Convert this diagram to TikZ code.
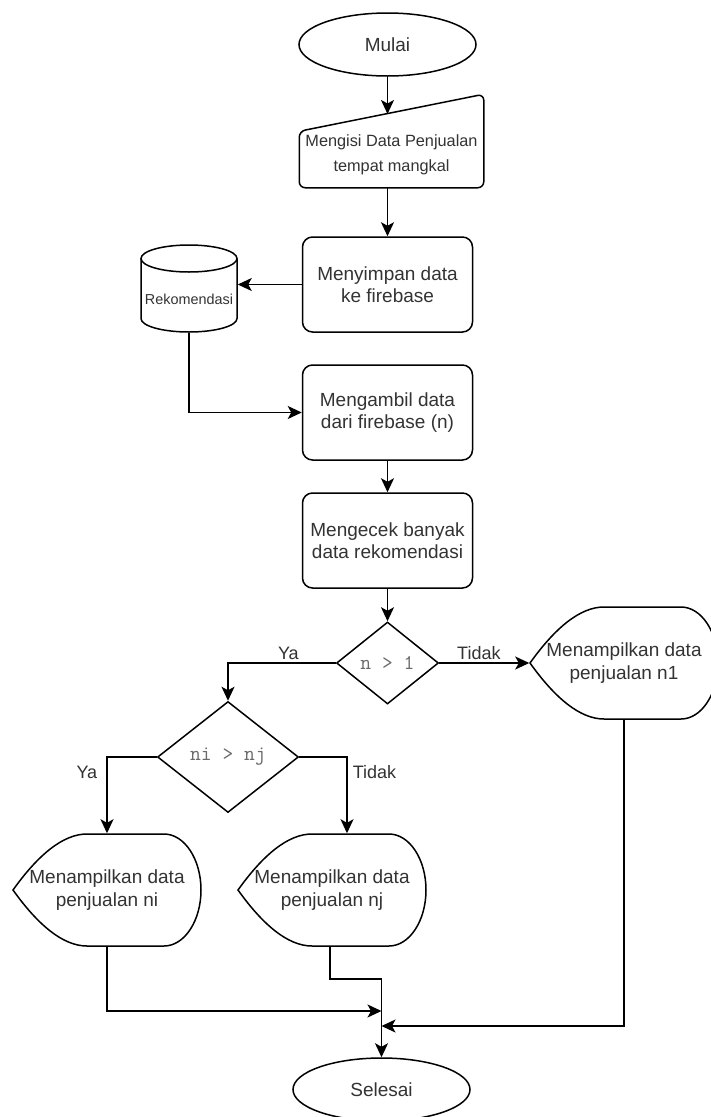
\documentclass[tikz,border=0pt]{standalone}
\usepackage{fontspec}
\setmainfont{Liberation Sans}
\usetikzlibrary{shapes.geometric,arrows.meta}
\definecolor{txt}{HTML}{333333}
\definecolor{condgray}{HTML}{6a6a6a}
\begin{document}
\begin{tikzpicture}[x=1pt,y=-1pt,line width=1.5pt,
every node/.style={text=txt,inner sep=0pt,font=\fontsize{19}{22.5}\selectfont},
proc/.style={draw,rounded corners=10pt,minimum width=170pt,minimum height=95pt,align=center},
term/.style={draw,ellipse,minimum width=177pt,minimum height=63pt},
cond/.style={draw,diamond,text=condgray,font=\ttfamily\fontsize{21}{22}\selectfont},
disp/.style={minimum width=188pt,minimum height=112pt,align=center},
lbl/.style={font=\fontsize{18}{20}\selectfont},
arr/.style={-{Stealth[length=14pt,width=13pt,inset=3.5pt]}}]
\useasboundingbox(0,0)rectangle(710,1117);
\fill[white](0,0)rectangle(710,1117);
% nodes
\node[term](mulai)at(387.5,44.5){Mulai};
\node[align=center,minimum width=183pt,minimum height=64pt,font=\fontsize{16.3}{25}\selectfont](isi)at(391.5,155){Mengisi Data Penjualan\\tempat mangkal};
\node[proc](simpan)at(387.5,284.5){Menyimpan data\\ke firebase};
\node[minimum width=96pt,minimum height=66pt,font=\fontsize{14.4}{17}\selectfont](db)at(189,299){Rekomendasi};
\node[proc](ambil)at(387.5,412.5){Mengambil data\\dari firebase (n)};
\node[proc](cek)at(387.5,540.5){Mengecek banyak\\data rekomendasi};
\node[cond,minimum width=102pt,minimum height=82pt](c1)at(387.5,663){n > 1};
\node[disp](n1)at(624,663){Menampilkan data\\penjualan n1};
\node[cond,minimum width=141pt,minimum height=111pt](c2)at(228,757){ni > nj};
\node[disp](ni)at(107,890){Menampilkan data\\penjualan ni};
\node[disp](nj)at(332,890){Menampilkan data\\penjualan nj};
\node[term](selesai)at(381.5,1089.5){Selesai};
% outlines
\draw[rounded corners=6pt](isi.south west)--([yshift=-9pt]isi.north west)--([yshift=28pt]isi.north east)--(isi.south east)--cycle;
\draw[shift={(db.center)}](-48,-40.5)--(-48,19.5)..controls(-48,27)and(-26.5,33)..(0,33)..controls(26.5,33)and(48,27)..(48,19.5)--(48,-40.5);
\draw[shift={(db.center)}](0,-40.5)ellipse[x radius=48,y radius=13.5];
\foreach \s in {n1,ni,nj}\draw[shift={(\s.center)}](-94,0)..controls(-69,-35)and(-44,-56)..(-20,-56)--(57,-56)..controls(77.4,-56)and(94,-30.9)..(94,0)..controls(94,30.9)and(77.4,56)..(57,56)--(-20,56)..controls(-44,56)and(-69,35)..cycle;
% connectors
\coordinate(isitop)at(387.5,114);
\draw[arr](mulai)--(isitop);
\draw[arr](isi.south-|simpan.north)--(simpan);
\draw[arr](simpan.west)--(simpan.west-|db.east);
\draw[arr](db.south)|-(ambil.west);
\draw[arr](ambil)--(cek);
\draw[arr](cek)--(c1);
\draw[arr](c1.west)-|node[lbl,pos=.22,above=3pt](ya1){Ya}(c2.north);
\draw[arr](c1.east)--node[lbl,pos=.44,above=3pt](no1){Tidak}(n1.west);
\draw[arr](c2.west)-|node[lbl,pos=.6,left=9pt](ya2){Ya}(ni.north);
\draw[arr](c2.east)-|node[lbl,pos=.6,right=5pt](no2){Tidak}([xshift=15pt]nj.north);
\coordinate(m1)at(selesai.north|-0,979);
\draw[arr]([xshift=-2pt]nj.south)|-(m1)--(selesai.north);
\draw[arr](ni.south)|-(selesai.north|-0,1011);
\draw[arr](n1.south)|-(selesai.north|-0,1026);
\end{tikzpicture}
\end{document}
